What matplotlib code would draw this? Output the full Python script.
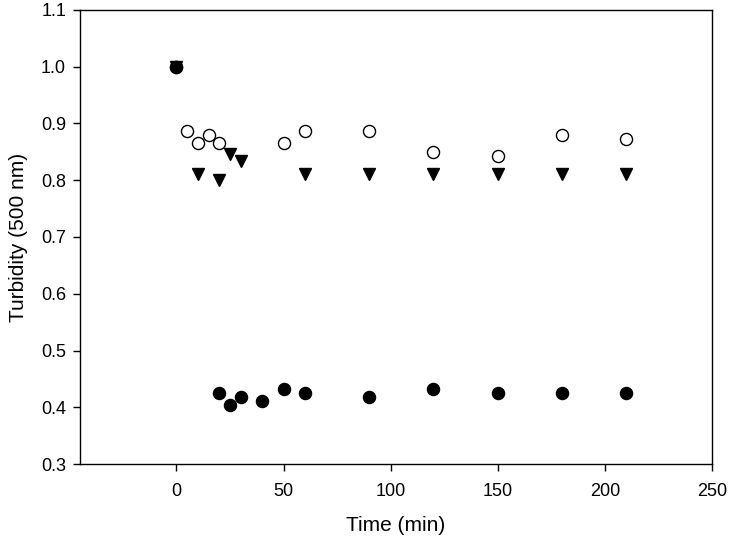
import matplotlib
matplotlib.use("Agg")
import matplotlib.pyplot as plt

plt.rcParams['font.family'] = ['Liberation Sans', 'DejaVu Sans']

# Open circles
t_open = [0, 5, 10, 15, 20, 50, 60, 90, 120, 150, 180, 210]
v_open = [1.0, 0.887, 0.865, 0.880, 0.865, 0.865, 0.887, 0.887, 0.850, 0.843, 0.880, 0.873]

# Filled triangles (down)
t_tri = [0, 10, 20, 25, 30, 60, 90, 120, 150, 180, 210]
v_tri = [1.0, 0.811, 0.800, 0.846, 0.834, 0.811, 0.811, 0.811, 0.811, 0.811, 0.811]

# Filled circles
t_fill = [0, 20, 25, 30, 40, 50, 60, 90, 120, 150, 180, 210]
v_fill = [1.0, 0.425, 0.404, 0.418, 0.411, 0.432, 0.425, 0.418, 0.432, 0.425, 0.425, 0.425]

fig = plt.figure(figsize=(7.29, 5.45), dpi=100)
ax = fig.add_axes([0.1097, 0.1486, 0.8670, 0.8331])

ax.plot(t_open, v_open, linestyle='none', marker='o', markersize=8.7,
        markerfacecolor='white', markeredgecolor='black', markeredgewidth=1.0)
ax.plot(t_fill, v_fill, linestyle='none', marker='o', markersize=8.7,
        markerfacecolor='black', markeredgecolor='black')
ax.plot(t_tri, v_tri, linestyle='none', marker='v', markersize=8.7,
        markerfacecolor='black', markeredgecolor='black')

ax.set_xlim(-45, 250)
ax.set_ylim(0.3, 1.1)
ax.set_xticks([0, 50, 100, 150, 200, 250])
ax.set_yticks([0.3, 0.4, 0.5, 0.6, 0.7, 0.8, 0.9, 1.0, 1.1])
ax.set_yticklabels(['0.3', '0.4', '0.5', '0.6', '0.7', '0.8', '0.9', '1.0', '1.1'])
ax.tick_params(direction='out', length=5, width=1, labelsize=13)
ax.tick_params(axis='x', pad=9)
ax.tick_params(axis='y', pad=5)
ax.tick_params(top=False, right=False)
for s in ax.spines.values():
    s.set_linewidth(1.0)

ax.set_xlabel('Time (min)', fontsize=15, labelpad=11)
ax.set_ylabel('Turbidity (500 nm)', fontsize=15, labelpad=9)

fig.savefig('out.png', dpi=100)
